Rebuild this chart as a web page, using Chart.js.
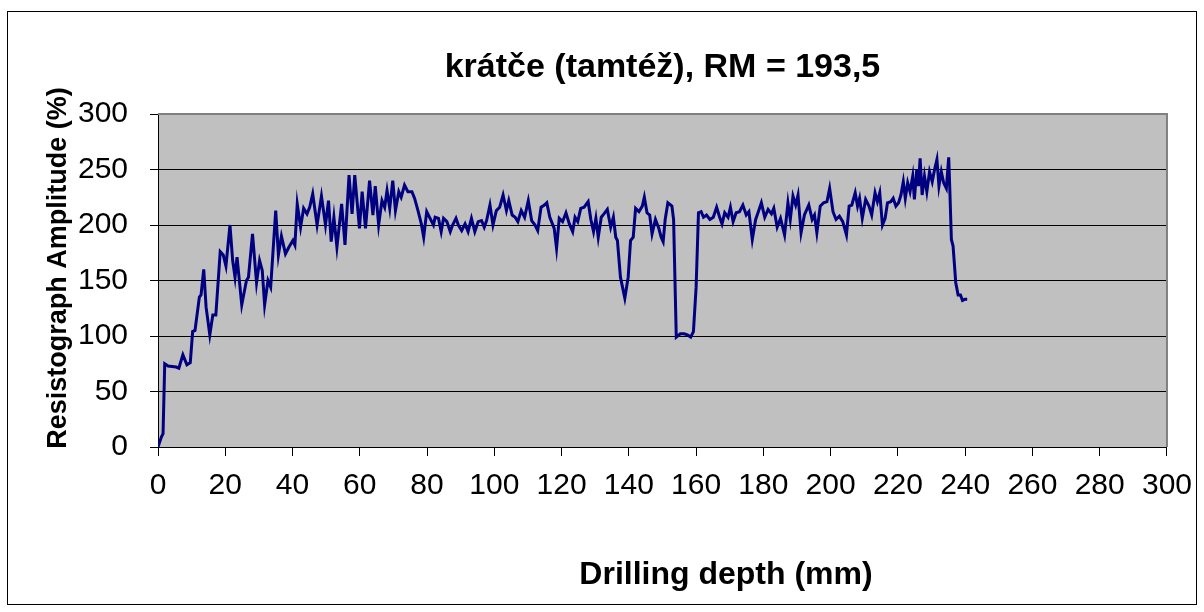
<!DOCTYPE html>
<html>
<head>
<meta charset="utf-8">
<script src="https://cdn.jsdelivr.net/npm/chart.js@4"></script>
<style>
html,body{margin:0;padding:0;background:#fff;}
canvas{display:block;}
</style>
</head>
<body>
<canvas id="c" width="1204" height="612"></canvas>
<script>
const chartTitle = "krátče (tamtéž), RM = 193,5";
const xTitle = "Drilling depth (mm)";
const yTitle = "Resistograph Amplitude (%)";

const depth = [0,1,1.5,2,3,5.4,6.2,7.4,8.6,9.6,10.3,11,12.3,12.8,13.6,14.3,15.4,16.3,17.2,18.5,19.4,20.2,21.4,22.2,22.9,23.5,24.9,26.3,26.9,28.1,29.3,30.2,31,31.7,32.7,33.5,35,35.8,36.7,37.9,38.9,40.1,40.7,41.4,42.4,43.3,44.3,45.1,46,47.3,48.6,49.8,50.7,51.5,52.3,53.2,
54.6,55.6,56.8,57.7,58.5,59.9,60.7,61.7,62.9,63.9,64.6,65.6,66.6,67.4,68.1,68.9,69.8,70.6,71.6,72.3,73.3,74.3,75.5,76.3,77.3,78.3,79,79.9,80.9,81.9,82.4,83.4,84.2,84.9,85.9,86.9,87.6,88.6,89.3,90.3,91.3,92.2,93.2,94.2,95.2,96.2,97,97.7,98.7,99.6,100.6,101.6,102.6,103.6,104.3,105.3,106.2,107,108,109,110.1,111.1,112.1,112.9,113.9,114.9,115.6,116.5,117.8,118.5,
119.3,120.3,121.3,122.3,123.3,124,124.8,125.7,126.7,127.9,128.7,129.5,130.2,130.9,131.8,132.6,133.6,134.6,135.4,136.1,136.6,137.5,138.8,139.8,140.5,141.3,142,143,144,144.6,145.4,146.2,146.9,147.9,148.9,149.6,150.2,150.8,151.6,152.8,153.3,154.1,155.3,156.4,157.4,158.4,159.2,160,160.7,161.5,162.2,163.1,164.1,165.1,166.1,167,167.7,168.5,169.5,170.2,171,171.9,172.9,173.9,174.9,175.7,176.7,177.7,178.4,179.4,180.4,181.4,182.4,183.1,184.1,185.1,186.3,
187.3,188,188.8,189.6,190.3,191.2,192.2,193.5,194.5,195.2,195.9,196.9,197.9,198.9,199.7,200.7,201.6,202.6,203.6,204.7,205.5,206.3,207.3,208,208.6,209.4,210.4,211.4,212.2,213.2,213.9,214.6,215.4,216.2,216.9,217.9,218.6,219.4,220.2,220.9,221.6,222.2,222.9,223.6,224.4,224.9,225.6,226.1,226.6,227.2,227.9,228.6,229.4,230.2,230.9,231.6,232.2,232.9,233.6,234.4,235.1,235.4,235.9,236.4,237.2,237.9,238.6,239.2,239.9,240.6];

const amplitude = [0,9,12,75,73,72,71,83,74,76,104,105,135,137,160,126,101,119,119,176,173,163,200,168,153,171,128,150,153,192,148,168,159,128,150,144,213,173,190,174,180,186,182,219,198,215,210,216,228,200,226,200,222,185,207,180,
219,182,245,210,245,197,230,197,240,209,235,200,222,216,231,215,240,213,230,225,236,230,230,224,213,201,189,212,206,200,207,206,194,206,203,194,200,206,200,195,201,194,206,194,203,204,198,204,218,200,213,216,227,213,222,209,207,203,213,207,222,204,200,195,216,218,220,207,197,179,
206,203,211,201,194,207,203,215,216,221,205,194,206,189,207,210,214,198,207,189,186,153,134,153,186,189,215,212,217,225,211,209,192,205,197,189,185,205,220,217,205,99,102,102,101,99,104,144,211,212,207,209,205,207,216,207,201,211,207,216,203,211,212,218,209,212,187,205,211,220,207,214,210,215,198,206,191,
220,205,226,218,227,193,209,218,205,209,193,217,220,221,233,212,205,208,203,191,217,218,229,217,224,206,223,217,209,229,221,229,200,206,220,221,224,217,220,227,239,224,238,230,244,223,250,235,260,227,244,230,248,239,250,259,235,248,238,233,261,235,187,181,148,137,137,132,133,133];

const xMin = 0, xMax = 300, xStep = 20;
const yMin = 0, yMax = 300, yStep = 50;

const FONT = "Arial, 'Liberation Sans', sans-serif";

const points = depth.map((d, i) => ({x: d, y: amplitude[i]}));

const decor = {
  id: 'decor',
  beforeDraw(chart) {
    const ctx = chart.ctx, a = chart.chartArea;
    ctx.save();
    ctx.fillStyle = '#ffffff';
    ctx.fillRect(0, 0, chart.width, chart.height);
    ctx.strokeStyle = '#000000';
    ctx.lineWidth = 1;
    ctx.strokeRect(7.5, 11.5, 1189, 593);
    ctx.fillStyle = '#c0c0c0';
    ctx.fillRect(a.left, a.top, a.right - a.left, a.bottom - a.top);
    ctx.restore();
  },
  beforeDatasetsDraw(chart) {
    const ctx = chart.ctx, a = chart.chartArea;
    ctx.save();
    ctx.strokeStyle = '#808080';
    ctx.lineWidth = 2;
    ctx.beginPath();
    ctx.moveTo(a.left, a.top);
    ctx.lineTo(a.right, a.top);
    ctx.lineTo(a.right, a.bottom);
    ctx.stroke();
    ctx.restore();
  },
  afterDraw(chart) {
    const ctx = chart.ctx;
    ctx.save();
    ctx.fillStyle = '#000';
    ctx.font = "bold 32px " + FONT;
    ctx.textAlign = 'center';
    ctx.textBaseline = 'middle';
    ctx.fillText(xTitle, 726, 575);
    ctx.restore();
    ctx.save();
    ctx.fillStyle = '#000';
    ctx.font = "bold 27px " + FONT;
    ctx.translate(66, 268);
    ctx.rotate(-Math.PI / 2);
    ctx.textAlign = 'center';
    ctx.textBaseline = 'alphabetic';
    ctx.fillText(yTitle, 0, 0);
    ctx.restore();
  }
};

new Chart(document.getElementById('c'), {
  type: 'line',
  data: {
    datasets: [{
      data: points,
      borderColor: '#000080',
      borderWidth: 3,
      pointRadius: 0,
      tension: 0,
      fill: false
    }]
  },
  options: {
    responsive: false,
    animation: false,
    layout: { padding: { left: 0, right: 31, top: 0, bottom: 0 } },
    plugins: {
      legend: { display: false },
      tooltip: { enabled: false },
      title: {
        display: true,
        text: chartTitle,
        fullSize: false,
        color: '#000',
        font: { family: FONT, size: 34, weight: 'bold', lineHeight: 1.2 },
        padding: { top: 47.6, bottom: 25.6 }
      }
    },
    scales: {
      x: {
        type: 'linear',
        min: xMin, max: xMax,
        afterFit(s) { s.height = 165; },
        ticks: {
          stepSize: xStep, autoSkip: false, maxRotation: 0,
          color: '#000', padding: 12,
          font: { family: FONT, size: 30 }
        },
        grid: { drawOnChartArea: false, drawTicks: true, tickLength: 9, color: '#000' },
        border: { color: '#000', width: 1 },
        title: { display: false }
      },
      y: {
        min: yMin, max: yMax,
        afterFit(s) { s.width = 158; },
        ticks: {
          stepSize: yStep, color: '#000', padding: 22,
          font: { family: FONT, size: 30 }
        },
        grid: { color: '#000', tickLength: 8, lineWidth: 1 },
        border: { color: '#000', width: 1 },
        title: { display: false }
      }
    }
  },
  plugins: [decor]
});
</script>
</body>
</html>
